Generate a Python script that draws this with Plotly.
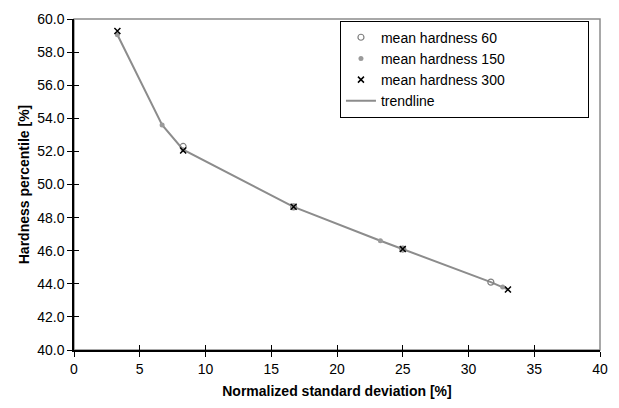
import plotly.graph_objects as go

# Data
x60 = [8.3, 16.7, 25.0, 31.7]
y60 = [52.3, 48.65, 46.1, 44.1]

x150 = [3.3, 6.7, 8.3, 16.7, 23.3, 25.0, 32.6]
y150 = [59.05, 53.6, 52.1, 48.65, 46.6, 46.1, 43.8]

x300 = [3.3, 8.3, 16.7, 25.0, 33.0]
y300 = [59.27, 52.05, 48.65, 46.1, 43.65]

xtrend = [3.3, 6.7, 8.3, 16.7, 23.3, 25.0, 31.7, 33.0]
ytrend = [59.05, 53.6, 52.1, 48.65, 46.6, 46.1, 44.1, 43.65]

FONT = "Liberation Sans, Arial, sans-serif"
GRAY = "#8c8c8c"
PAD = "\u00a0" * 20  # widens the legend box like the reference

fig = go.Figure()
fig.add_trace(go.Scatter(x=xtrend, y=ytrend, mode="lines", name="trendline",
                         line=dict(color=GRAY, width=2), legendrank=4))
fig.add_trace(go.Scatter(x=x60, y=y60, mode="markers", name="mean hardness 60",
                         marker=dict(symbol="circle-open", size=6, color="#808080",
                                     line=dict(width=1.2, color="#707070")),
                         legendrank=1))
fig.add_trace(go.Scatter(x=x150, y=y150, mode="markers", name="mean hardness 150",
                         marker=dict(symbol="circle", size=5, color="#9a9a9a"),
                         legendrank=2))
fig.add_trace(go.Scatter(x=x300, y=y300, mode="markers", name="mean hardness 300" + PAD,
                         marker=dict(symbol="x-thin", size=6, color="black",
                                     line=dict(width=1.5, color="black")),
                         legendrank=3))

axis_common = dict(showgrid=False, zeroline=False)

fig.update_layout(
    width=619, height=408,
    margin=dict(l=74, r=18, t=11, b=58),
    paper_bgcolor="white", plot_bgcolor="white",
    font=dict(family=FONT, size=14, color="black"),
    xaxis=dict(range=[0, 40], tick0=0, dtick=5, ticks="outside", ticklen=5,
               tickcolor="black", showline=True, linecolor="black", linewidth=1.5,
               tickfont=dict(size=14),
               title=dict(text="<b>Normalized standard deviation [%]</b>",
                          font=dict(size=14), standoff=11),
               **axis_common),
    yaxis=dict(range=[40, 60], tick0=40, dtick=2, tickformat=".1f",
               ticks="outside", ticklen=5, tickcolor="black",
               showline=True, linecolor="black", linewidth=1.5,
               tickfont=dict(size=14),
               title=dict(text="<b>Hardness percentile [%]</b>",
                          font=dict(size=14), standoff=4),
               **axis_common),
    xaxis2=dict(overlaying="x", side="bottom", range=[0, 40], tick0=0, dtick=5,
                ticks="inside", ticklen=5, tickcolor="black", showticklabels=False,
                showline=False, **axis_common),
    yaxis2=dict(overlaying="y", side="left", range=[40, 60], tick0=40, dtick=2,
                ticks="inside", ticklen=5, tickcolor="black", showticklabels=False,
                showline=False, **axis_common),
    legend=dict(x=0.979, y=0.995, xanchor="right", yanchor="top",
                bordercolor="black", borderwidth=1, bgcolor="white",
                font=dict(size=14), tracegroupgap=0, itemwidth=30),
    shapes=[dict(type="rect", xref="paper", yref="paper", x0=0, x1=1, y0=0, y1=1,
                 line=dict(color=GRAY, width=1.5), layer="below")],
)
# invisible trace to anchor the overlay axes
fig.add_trace(go.Scatter(x=[0], y=[40], xaxis="x2", yaxis="y2", mode="markers",
                         marker=dict(opacity=0), showlegend=False, hoverinfo="skip"))

fig.write_html("out.html")
